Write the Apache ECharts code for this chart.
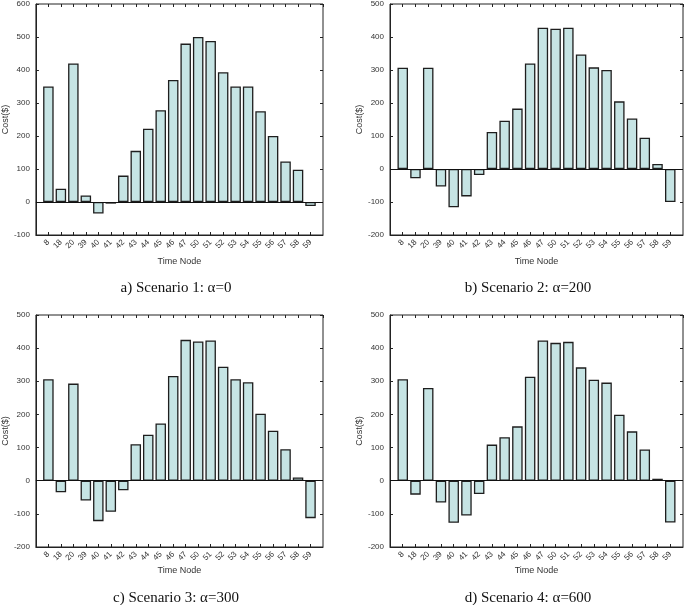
<!DOCTYPE html>
<html><head><meta charset="utf-8">
<script src="https://cdn.jsdelivr.net/npm/echarts@6/dist/echarts.min.js"></script>
<style>html,body{margin:0;padding:0;background:#fff}#c{width:685px;height:605px}</style>
</head><body><div id="c"></div>
<script>
const categories = ['8','18','20','39','40','41','42','43','44','45','46','47','50','51','52','53','54','55','56','57','58','59'];
const scenario1 = [350,40,420,20,-35,-5,80,155,222,278,370,480,500,488,393,350,350,275,200,123,98,-12];
const scenario2 = [307,-28,307,-53,-116,-83,-18,112,146,183,320,428,425,428,347,308,300,205,153,95,15,-100];
const scenario3 = [306,-35,293,-60,-122,-94,-29,110,139,173,316,425,420,423,344,306,297,202,151,95,10,-113];
const scenario4 = [306,-42,280,-66,-127,-105,-40,109,131,164,314,423,416,419,342,305,296,199,149,94,6,-126];
const captions = ['a) Scenario 1: \u03b1=0','b) Scenario 2: \u03b1=200','c) Scenario 3: \u03b1=300','d) Scenario 4: \u03b1=600'];
const yRanges = [[-100,600],[-200,500],[-200,500],[-200,500]];
const seriesData = [scenario1,scenario2,scenario3,scenario4];

const grids = [
  {left:30, top:3, width:293, height:232},
  {left:390, top:3, width:293, height:232},
  {left:30, top:315, width:293, height:232},
  {left:390, top:315, width:293, height:232}
];
const font = 'Liberation Sans, Arial, sans-serif';
const chart = echarts.init(document.getElementById('c'));
const xAxis = [], yAxis = [], series = [], grid = [], graphic = [];
const catLabel = v => (Number.isInteger(v) && v >= 0 && v < categories.length) ? categories[v] : '';
grids.forEach((g,i)=>{
  grid.push(Object.assign({show:true, borderColor:'#222', borderWidth:1, containLabel:false}, g));
  xAxis.push({type:'value', gridIndex:i, position:'bottom', min:-1, max:categories.length, interval:1,
    splitLine:{show:false},
    axisLine:{onZero:false, lineStyle:{color:'#222'}}, axisTick:{inside:true, length:3, lineStyle:{color:'#222'}},
    axisLabel:{rotate:45, fontSize:8, color:'#333', fontFamily:font, margin:6, formatter:catLabel, showMinLabel:false, showMaxLabel:false},
    name:'Time Node', nameLocation:'middle', nameGap:i<2?22:19, nameTextStyle:{fontSize:9, color:'#333', fontFamily:font}});
  xAxis.push({type:'value', gridIndex:i, position:'top', min:-1, max:categories.length, interval:1,
    splitLine:{show:false},
    axisLine:{show:false, onZero:false}, axisTick:{inside:true, length:3, lineStyle:{color:'#222'}}, axisLabel:{show:false}});
  yAxis.push({type:'value', gridIndex:i, min:yRanges[i][0], max:yRanges[i][1], interval:100, position:'left',
    axisLine:{show:true, onZero:false, lineStyle:{color:'#222'}}, axisTick:{show:true, inside:true, length:3, lineStyle:{color:'#222'}},
    splitLine:{show:false}, axisLabel:{fontSize:8, color:'#333', fontFamily:font, margin:6},
    name:'Cost($)', nameLocation:'middle', nameGap:19, nameTextStyle:{fontSize:9, color:'#333', fontFamily:font}});
  yAxis.push({type:'value', gridIndex:i, min:yRanges[i][0], max:yRanges[i][1], interval:100, position:'right',
    axisLine:{show:false, onZero:false}, axisTick:{show:true, inside:true, length:3, lineStyle:{color:'#222'}},
    splitLine:{show:false}, axisLabel:{show:false}});
  series.push({type:'bar', xAxisIndex:2*i, yAxisIndex:2*i, data:seriesData[i].map((v,k)=>[k,v]), barWidth:10.5,
    itemStyle:{color:'#c6e4e4', borderColor:'#1e1e1e', borderWidth:1.3},
    markLine:{silent:true, symbol:'none', label:{show:false}, lineStyle:{color:'#111', type:'solid', width:1}, data:[{yAxis:0}]}});
});
const capPos = [[176,288],[528,288],[176,598],[528,598]];
captions.forEach((t,i)=>{
  graphic.push({type:'text', x:capPos[i][0], y:capPos[i][1], style:{text:t, fontSize:15, fontFamily:'Liberation Serif, Times New Roman, serif', fill:'#111', textAlign:'center', textVerticalAlign:'middle'}});
});
chart.setOption({animation:false, grid, xAxis, yAxis, series, graphic});
</script></body></html>
